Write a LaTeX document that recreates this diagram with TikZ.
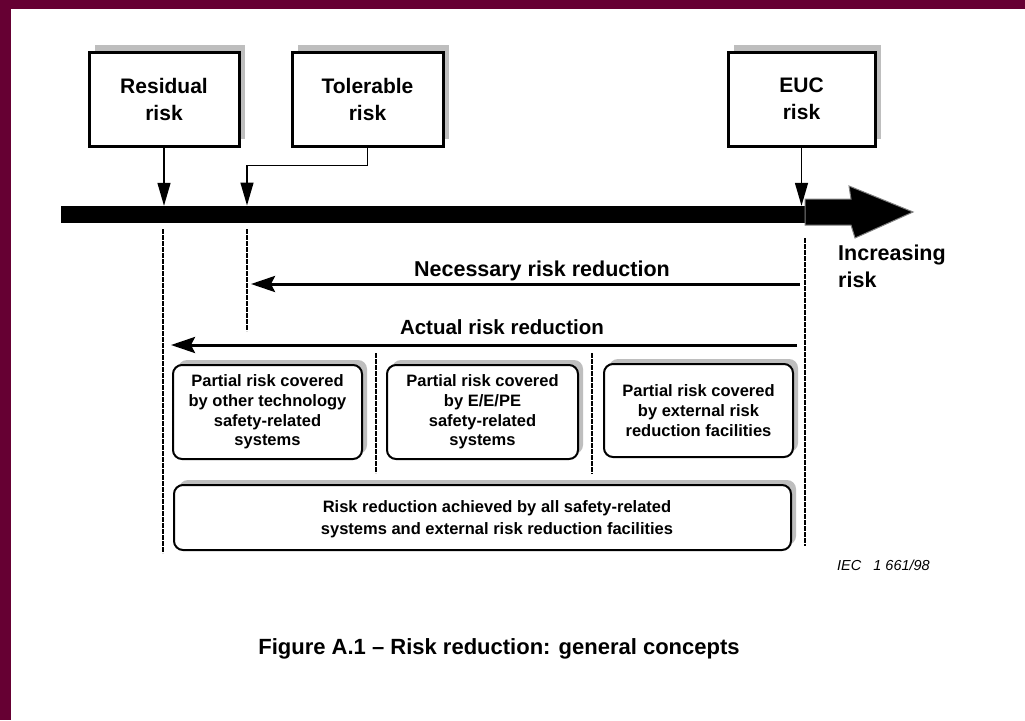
\documentclass[tikz,border=0pt]{standalone}
\usepackage{fontspec}
\setmainfont{Liberation Sans}
\usetikzlibrary{arrows.meta,shadows}
\definecolor{frame}{HTML}{660033}
\definecolor{shade}{HTML}{BEBEBE}
\begin{document}
\begin{tikzpicture}[x=1pt,y=-1pt,
  topbox/.style={draw,line width=3pt,fill=white,minimum width=150pt,minimum height=94pt,
    inner sep=0pt,align=center,font=\fontsize{21}{27}\selectfont\bfseries,
    drop shadow={shadow xshift=6pt,shadow yshift=7pt,fill=shade,opacity=1}},
  partbox/.style={draw,line width=2pt,rounded corners=9pt,fill=white,inner sep=0pt,
    align=center,font=\fontsize{16.5}{19.7}\selectfont\bfseries,
    drop shadow={shadow xshift=5pt,shadow yshift=5pt,fill=shade,opacity=1}},
  pointer/.style={line width=1.4pt,-{Triangle[length=23pt,width=13pt]}},
  spanarrow/.style={line width=3pt,-{Stealth[length=24pt,width=16pt,inset=4pt]}},
  limit/.style={line width=2.6pt,dash pattern=on 5pt off 1pt},
  lbl/.style={font=\fontsize{21.5}{27}\selectfont\bfseries,inner sep=0pt,anchor=base},
]
\useasboundingbox (0,0) rectangle (1025,720);
% page frame
\fill[frame] (0,0) rectangle (1025,720);
\fill[white] (11,9) rectangle (1025,720);

% risk level boxes
\node[topbox] (res) at (164,99) {Residual\\risk};
\node[topbox,minimum width=151pt] (tol) at (367.5,99) {Tolerable\\risk};
\node[topbox,minimum width=147pt] (euc) at (801.5,99) {EUC\\risk};

% risk axis
\node[fill=black,inner sep=0pt,minimum width=744pt,minimum height=17pt] (bar) at (433,214.5) {};
\fill[black,draw=gray,line width=1pt]
  (805,199) -- (851,199) -- (849,186) -- (913,212) -- (855,238) -- (851,225) -- (805,225) -- cycle;
\node[font=\fontsize{21.5}{27}\selectfont\bfseries,inner sep=0pt,align=left,anchor=north west]
  (incr) at (838,244.5) {Increasing\\risk};

% markers onto the axis
\coordinate (tolHit) at (247,205.5);
\draw[pointer] (res.south) -- (res.south |- bar.north);
\draw[pointer] (tol.south) -- ++(0,18) -| (tolHit);
\draw[pointer] (euc.south) -- (euc.south |- bar.north);

% limit lines
\coordinate (resTop) at (163,229);  \coordinate (resBot) at (163,553);
\coordinate (tolTop) at (247,229);  \coordinate (tolBot) at (247,331);
\coordinate (eucTop) at (805,238);  \coordinate (eucBot) at (805,546);
\coordinate (sepATop) at (376,353); \coordinate (sepABot) at (376,473);
\coordinate (sepBTop) at (592,353); \coordinate (sepBBot) at (592,474);
\draw[limit] (resTop) -- (resBot);
\draw[limit] (tolTop) -- (tolBot);
\draw[limit] (eucTop) -- (eucBot);
\draw[limit] (sepATop) -- (sepABot);
\draw[limit] (sepBTop) -- (sepBBot);

% risk reduction spans
\coordinate (necR) at (800,284); \coordinate (necL) at (251,284);
\coordinate (actR) at (797,345); \coordinate (actL) at (171,345);
\draw[spanarrow] (necR) -- (necL);
\draw[spanarrow] (actR) -- (actL);
\node[lbl] (nec) at (542,276) {Necessary risk reduction};
\node[lbl,font=\fontsize{20.5}{27}\selectfont\bfseries] (act) at (502,334) {Actual risk reduction};

% partial coverage boxes
\node[partbox,minimum width=189pt,minimum height=94pt] (p1) at (267.5,412)
  {Partial risk covered\\by other technology\\safety-related\\systems};
\node[partbox,minimum width=191pt,minimum height=94pt] (p2) at (482.5,412)
  {Partial risk covered\\by E/E/PE\\safety-related\\systems};
\node[partbox,minimum width=189pt,minimum height=93pt] (p3) at (698.5,410.5)
  {Partial risk covered\\by external risk\\reduction facilities};

% overall reduction box
\node[partbox,minimum width=617pt,minimum height=65pt] (all) at (482.5,517.5) {};
\node[font=\fontsize{16.5}{22}\selectfont\bfseries,align=center,inner sep=0pt]
  (alltext) at (497,519) {Risk reduction achieved by all safety-related\\systems and external risk reduction facilities};

% reference and caption
\node[font=\fontsize{14.5}{16}\selectfont\itshape,inner sep=0pt,anchor=base west]
  (iec) at (837,570) {IEC\hspace{12pt}1 661/98};
\node[font=\fontsize{22}{26}\selectfont\bfseries,inner sep=0pt,anchor=base]
  (cap) at (499,654) {Figure A.1 -- Risk reduction: general concepts};
\end{tikzpicture}
\end{document}
